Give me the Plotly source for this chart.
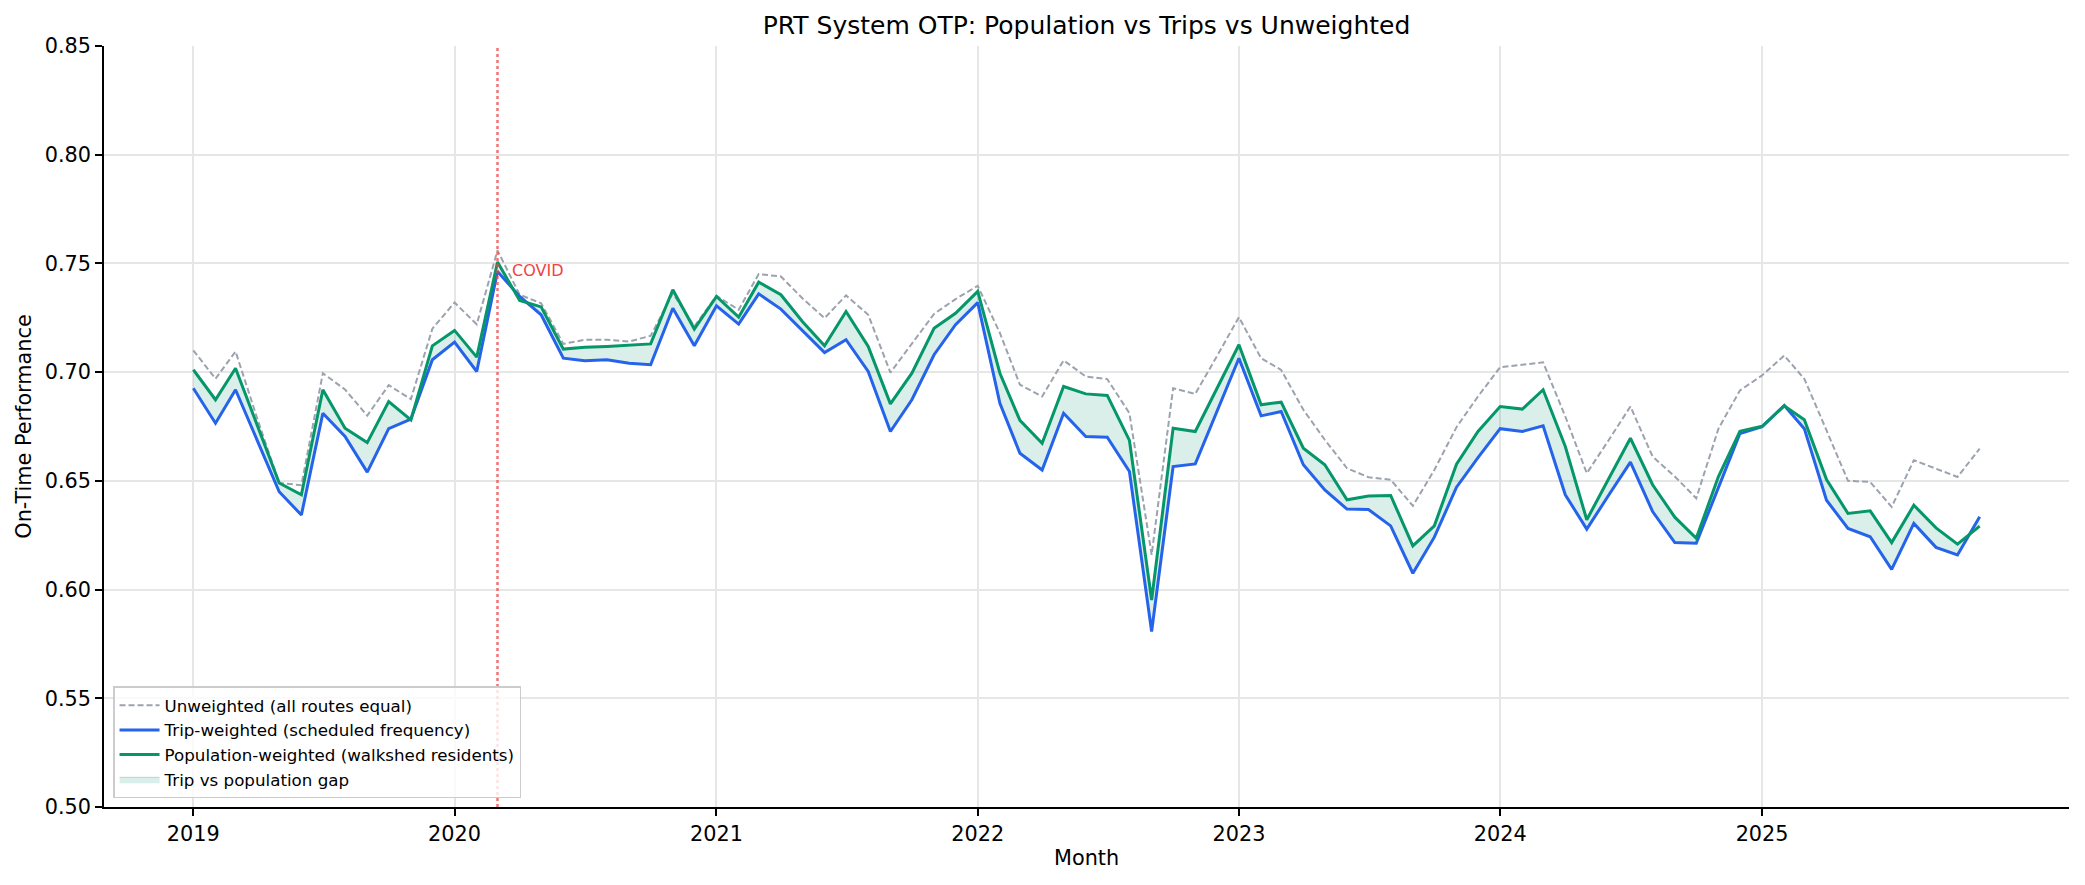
import pandas as pd
import plotly.graph_objects as go

months = pd.date_range("2019-01-01", "2025-11-01", freq="MS")

unweighted = [
    0.710, 0.697, 0.7095, 0.678, 0.649, 0.648, 0.6995, 0.692, 0.680, 0.694, 0.6876, 0.720,
    0.732, 0.722, 0.756, 0.7356, 0.7317, 0.7130, 0.7149, 0.7149, 0.7141, 0.7167, 0.7363, 0.721,
    0.7351, 0.7287, 0.7451, 0.7440, 0.7340, 0.7248, 0.7353, 0.7264, 0.6998, 0.7133, 0.7268, 0.7336,
    0.7397, 0.7180, 0.6942, 0.6888, 0.7054, 0.6980, 0.6968, 0.6811, 0.6160, 0.6926, 0.6900, 0.7072,
    0.7253, 0.7064, 0.7010, 0.6827, 0.6689, 0.6558, 0.6517, 0.6505, 0.6385, 0.6550, 0.6747, 0.6888,
    0.7023, 0.7034, 0.7045, 0.6796, 0.6535, 0.6689, 0.6842, 0.6612, 0.6520, 0.6420, 0.6740, 0.6916,
    0.6985, 0.7076, 0.6969, 0.6732, 0.6500, 0.6495, 0.6380, 0.6595, 0.6557, 0.6518, 0.6648,
]

trip_weighted = [
    0.6926, 0.6765, 0.6919, 0.6680, 0.6450, 0.6343, 0.6811, 0.6704, 0.6540, 0.6740, 0.6784, 0.7057,
    0.7138, 0.7003, 0.7463, 0.7348, 0.7264, 0.7064, 0.7052, 0.7057, 0.7041, 0.7034, 0.7294, 0.7121,
    0.7305, 0.7221, 0.7360, 0.7290, 0.7192, 0.7090, 0.7149, 0.7003, 0.6727, 0.6873, 0.7080, 0.7218,
    0.7320, 0.6857, 0.6627, 0.6550, 0.6811, 0.6704, 0.6701, 0.6543, 0.5807, 0.6566, 0.6578, 0.6819,
    0.7064, 0.6799, 0.6819, 0.6574, 0.6458, 0.6370, 0.6368, 0.6293, 0.6075, 0.6241, 0.6471, 0.6607,
    0.6740, 0.6727, 0.6753, 0.6436, 0.6278, 0.6436, 0.6586, 0.6359, 0.6216, 0.6213, 0.6466, 0.6718,
    0.6749, 0.6847, 0.6740, 0.6411, 0.6281, 0.6243, 0.6093, 0.6304, 0.6194, 0.6159, 0.6335,
]

pop_weighted = [
    0.7011, 0.6873, 0.7018, 0.6753, 0.6490, 0.6436, 0.6919, 0.6742, 0.6676, 0.6865, 0.6780, 0.7121,
    0.7192, 0.7069, 0.7506, 0.7330, 0.7300, 0.7106, 0.7114, 0.7118, 0.7123, 0.7130, 0.7379, 0.7198,
    0.7348, 0.7253, 0.7414, 0.7356, 0.7233, 0.7121, 0.7279, 0.7118, 0.6854, 0.6995, 0.7202, 0.7271,
    0.7371, 0.6995, 0.6778, 0.6673, 0.6934, 0.6900, 0.6893, 0.6686, 0.5952, 0.6742, 0.6727, 0.6926,
    0.7126, 0.6850, 0.6862, 0.6650, 0.6574, 0.6413, 0.6430, 0.6433, 0.6201, 0.6293, 0.6577, 0.6727,
    0.6842, 0.6830, 0.6919, 0.6658, 0.6321, 0.6512, 0.6696, 0.6482, 0.6333, 0.6236, 0.6520, 0.6728,
    0.6751, 0.6845, 0.6781, 0.6506, 0.6350, 0.6362, 0.6216, 0.6388, 0.6284, 0.6209, 0.6292,
]

year_ticks = ["2019-01-01", "2020-01-01", "2021-01-01", "2022-01-01",
              "2023-01-01", "2024-01-01", "2025-01-01"]
year_labels = ["2019", "2020", "2021", "2022", "2023", "2024", "2025"]
y_ticks = [0.50, 0.55, 0.60, 0.65, 0.70, 0.75, 0.80, 0.85]
covid_date = "2020-03-01"

GREY = "#9ca3af"
BLUE = "#2563eb"
GREEN = "#059669"
FILL = "rgba(5,150,105,0.15)"
FONT = "DejaVu Sans"

fig = go.Figure()

fig.add_trace(go.Scatter(x=months, y=unweighted, mode="lines",
                         name="Unweighted (all routes equal)",
                         line=dict(color=GREY, width=2, dash="6px,3px")))
# invisible base for the fill
fig.add_trace(go.Scatter(x=months, y=trip_weighted, mode="lines",
                         line=dict(width=0, color=BLUE), showlegend=False,
                         hoverinfo="skip"))
fig.add_trace(go.Scatter(x=months, y=pop_weighted, mode="lines",
                         line=dict(width=0, color=GREEN), fill="tonexty",
                         fillcolor=FILL, showlegend=False, hoverinfo="skip"))
fig.add_trace(go.Scatter(x=months, y=trip_weighted, mode="lines",
                         name="Trip-weighted (scheduled frequency)",
                         line=dict(color=BLUE, width=3)))
fig.add_trace(go.Scatter(x=months, y=pop_weighted, mode="lines",
                         name="Population-weighted (walkshed residents)",
                         line=dict(color=GREEN, width=3)))
fig.add_trace(go.Scatter(x=[None], y=[None], mode="lines", fill="toself",
                         name="Trip vs population gap", fillcolor=FILL,
                         line=dict(color="rgba(5,150,105,0.25)", width=1)))

start = pd.Timestamp(months[0])
end = pd.Timestamp(months[-1])
pad = (end - start) * 0.05

fig.add_shape(type="line", xref="x", yref="paper",
              x0=covid_date, x1=covid_date, y0=0, y1=1,
              line=dict(color="rgba(239,68,68,0.75)", width=2.5, dash="dot"))

fig.add_annotation(x=pd.Timestamp(covid_date) + pd.Timedelta(days=18), y=0.7468,
                   xref="x", yref="y", text="COVID", showarrow=False,
                   xanchor="left", yanchor="middle",
                   font=dict(family=FONT, size=16, color="#ef4444"))

fig.add_annotation(x=-0.0411, y=0.5, xref="paper", yref="paper",
                   text="On-Time Performance", showarrow=False, textangle=-90,
                   xanchor="center", yanchor="middle",
                   font=dict(family=FONT, size=20.8, color="black"))
fig.add_annotation(x=0.5, y=-0.067, xref="paper", yref="paper",
                   text="Month", showarrow=False,
                   xanchor="center", yanchor="middle",
                   font=dict(family=FONT, size=20.8, color="black"))

fig.update_layout(
    width=2085, height=885,
    margin=dict(l=104, r=16, t=46, b=78),
    paper_bgcolor="white", plot_bgcolor="white",
    font=dict(family=FONT, color="black"),
    title=dict(text="PRT System OTP: Population vs Trips vs Unweighted",
               x=(104 + (2085 - 16)) / 2 / 2085, xanchor="center",
               y=1 - 25 / 885, yanchor="middle", yref="container",
               font=dict(family=FONT, size=25, color="black")),
    showlegend=True,
    legend=dict(x=0.0046, y=0.0114, xanchor="left", yanchor="bottom",
                traceorder="normal",
                bgcolor="rgba(255,255,255,0.8)", bordercolor="#cccccc",
                borderwidth=1.5, font=dict(family=FONT, size=16.7, color="black"),
                tracegroupgap=0, itemwidth=40),
)

fig.update_xaxes(
    range=[start - pad, end + pad], tickvals=year_ticks, ticktext=year_labels,
    showgrid=True, gridcolor="#e6e6e6", gridwidth=1.5,
    showline=True, linecolor="black", linewidth=1.7, mirror=False,
    ticks="outside", ticklen=7, tickwidth=1.7, tickcolor="black",
    tickfont=dict(family=FONT, size=20.8, color="black"), zeroline=False,
)
fig.update_yaxes(
    range=[0.5, 0.85], tickvals=y_ticks, tickformat=".2f",
    showgrid=True, gridcolor="#e6e6e6", gridwidth=1.5,
    showline=True, linecolor="black", linewidth=1.7, mirror=False,
    ticks="outside", ticklen=7, tickwidth=1.7, tickcolor="black",
    tickfont=dict(family=FONT, size=20.8, color="black"), zeroline=False,
)

fig.write_html("out.html")
